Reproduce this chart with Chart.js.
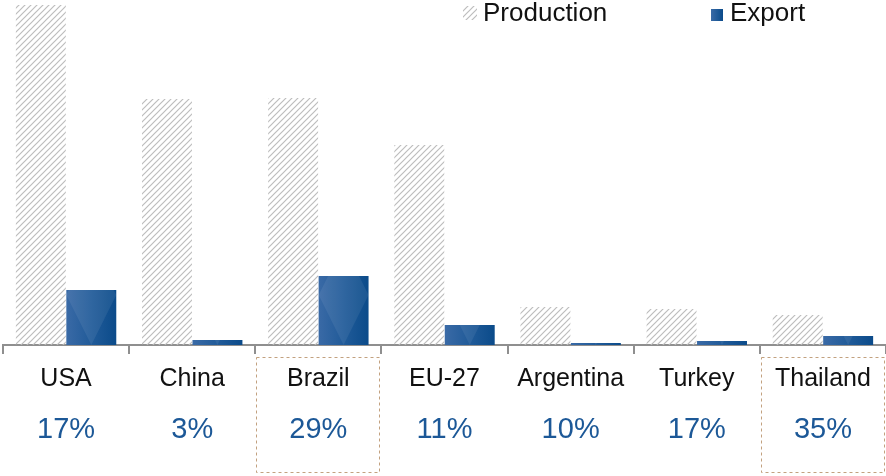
<!DOCTYPE html>
<html>
<head>
<meta charset="utf-8">
<script src="https://cdn.jsdelivr.net/npm/chart.js@4.4.0/dist/chart.umd.min.js"></script>
<style>
  html, body { margin: 0; padding: 0; background: #fff; }
  #wrap { width: 886px; height: 476px; position: relative; }
</style>
</head>
<body>
<div id="wrap"><canvas id="chart"></canvas></div>
<script>
// --- Data (million tonnes) ---
const countries = ['USA', 'China', 'Brazil', 'EU-27', 'Argentina', 'Turkey', 'Thailand'];
const production = [17.0, 12.3, 12.35, 10.0, 1.9, 1.8, 1.5];
const exportVol = [2.75, 0.25, 3.45, 1.0, 0.1, 0.2, 0.45];
const exportShare = ['17%', '3%', '29%', '11%', '10%', '17%', '35%'];
const highlighted = ['Brazil', 'Thailand'];

const FONT = '"Liberation Sans", Arial, sans-serif';

// grey diagonal hatch for production bars
function makeHatch() {
    const c = document.createElement('canvas');
    c.width = 6; c.height = 6;
    const g = c.getContext('2d');
    g.strokeStyle = '#bdbdbd';
    g.lineWidth = 1.2;
    g.beginPath();
    g.moveTo(0, 6); g.lineTo(6, 0);
    g.moveTo(-1, 1); g.lineTo(1, -1);
    g.moveTo(5, 7); g.lineTo(7, 5);
    g.stroke();
    return g.createPattern(c, 'repeat');
}
const hatch = makeHatch();

function blueFill(g, x0, x1) {
    const grad = g.createLinearGradient(x0, 0, x1, 0);
    grad.addColorStop(0, '#3a6aa6');
    grad.addColorStop(0.5, '#215b99');
    grad.addColorStop(1, '#0b4b8a');
    return grad;
}

function exportColor(ctx) {
    const ch = ctx.chart;
    if (!ch.chartArea || ctx.dataIndex === undefined) return '#1f5a99';
    const cx = ch.scales.x.getPixelForValue(ctx.dataIndex);
    return blueFill(ch.ctx, cx, cx + 50);
}

// faint diamond sheen on the export bars
const sheen = {
    id: 'sheen',
    afterDatasetsDraw(chart) {
        const g = chart.ctx;
        const bars = chart.getDatasetMeta(1).data;
        g.save();
        bars.forEach(b => {
            const { x, y, base, width } = b.getProps(['x', 'y', 'base', 'width'], true);
            const l = x - width / 2, r = x + width / 2;
            g.save();
            g.beginPath();
            g.rect(l, y, width, base - y);
            g.clip();
            g.fillStyle = 'rgba(255,255,255,0.07)';
            for (let top = base - 2 * width; top > y - 2 * width; top -= 2 * width) {
                g.beginPath();
                g.moveTo(x, top);
                g.lineTo(r, top + width);
                g.lineTo(x, top + 2 * width);
                g.lineTo(l, top + width);
                g.closePath();
                g.fill();
            }
            g.restore();
        });
        g.restore();
    }
};

// --- Labels, shares, boxes and legend ---
const extras = {
    id: 'extras',
    afterDraw(chart) {
        const g = chart.ctx;
        const xs = chart.scales.x;
        const half = (xs.right - xs.left) / countries.length / 2;
        g.save();

        // dashed boxes round highlighted countries
        g.strokeStyle = '#c2a17f';
        g.lineWidth = 1;
        g.setLineDash([3, 3]);
        countries.forEach((c, i) => {
            if (!highlighted.includes(c)) return;
            const x = xs.getPixelForValue(i);
            g.strokeRect(Math.round(x - half) + 1.5, 357.5, Math.round(2 * half) - 3, 115);
        });
        g.setLineDash([]);

        // country names and export shares
        g.textAlign = 'center';
        g.textBaseline = 'middle';
        countries.forEach((c, i) => {
            const x = xs.getPixelForValue(i);
            g.fillStyle = '#111';
            g.font = '25px ' + FONT;
            g.fillText(c, x, 379);
            g.fillStyle = '#1c5897';
            g.font = '29px ' + FONT;
            g.fillText(exportShare[i], x, 430);
        });

        // legend
        const ds = chart.data.datasets;
        g.textAlign = 'left';
        g.fillStyle = hatch;
        g.fillRect(463, 6, 14, 14);
        g.fillStyle = blueFill(g, 711, 723);
        g.fillRect(711, 9, 12, 12);
        g.fillStyle = '#111';
        g.font = '26px ' + FONT;
        g.fillText(ds[0].label, 483, 14);
        g.fillText(ds[1].label, 730, 14);

        g.restore();
    }
};

new Chart(document.getElementById('chart'), {
    type: 'bar',
    data: {
        labels: countries,
        datasets: [
            { label: 'Production', data: production, backgroundColor: hatch, borderWidth: 0 },
            { label: 'Export', data: exportVol, backgroundColor: exportColor, borderWidth: 0 }
        ]
    },
    options: {
        responsive: true,
        maintainAspectRatio: false,
        animation: false,
        layout: { padding: { left: 3, right: 0, top: 5, bottom: 0 } },
        datasets: { bar: { categoryPercentage: 0.8, barPercentage: 0.99 } },
        plugins: {
            legend: { display: false },
            tooltip: { enabled: false }
        },
        scales: {
            x: {
                grid: { drawOnChartArea: false, drawTicks: true, tickLength: 9, color: '#8f8f8f', lineWidth: 2 },
                border: { color: '#8f8f8f', width: 2 },
                ticks: { display: false },
                afterFit: s => { s.height = 131; }
            },
            y: { display: false, min: 0, max: 17 }
        }
    },
    plugins: [sheen, extras]
});
</script>
</body>
</html>
